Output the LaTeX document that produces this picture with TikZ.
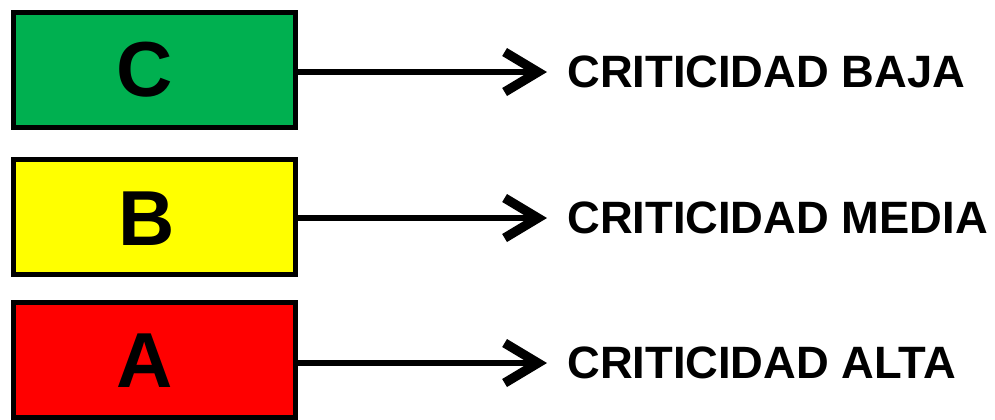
\documentclass[tikz,border=0pt]{standalone}
\usepackage{fontspec}
\setmainfont{Liberation Sans}
\usetikzlibrary{arrows.meta,shadows}

\definecolor{verde}{HTML}{00B050}
\definecolor{amarillo}{HTML}{FFFF00}
\definecolor{rojo}{HTML}{FF0000}

\tikzset{
  caja/.style={draw=black, line width=3.75pt, minimum width=211.5pt, minimum height=86pt,
    inner sep=0pt, drop shadow={opacity=0.25, shadow xshift=2pt, shadow yshift=-2pt}},
  letra/.style={font=\fontsize{58.5}{60}\selectfont\bfseries, inner sep=0pt},
  etiqueta/.style={font=\fontsize{34}{40}\selectfont\bfseries, anchor=west, inner sep=0pt},
  flecha/.style={line width=4.5pt, -{Straight Barb[length=25pt, width=30pt, line width=7pt]}}
}

\begin{document}
\begin{tikzpicture}[x=0.75pt, y=-0.75pt]
    \useasboundingbox (0,0) rectangle (995,419);
    % Cajas
    \node[caja, fill=verde] (cajaC) at (154.5,70) {};
    \node[caja, fill=amarillo] (cajaB) at (154.5,217) {};
    \node[caja, fill=rojo] (cajaA) at (154.5,360) {};

    % Letras
    \node[letra] (C) at (145,70) {C};
    \node[letra] (B) at (147,219) {B};
    \node[letra] (A) at (145,361) {A};

    % Textos
    \node[etiqueta] (baja) at (567,72) {CRITICIDAD BAJA};
    \node[etiqueta] (media) at (567,218) {CRITICIDAD MEDIA};
    \node[etiqueta] (alta) at (567,363) {CRITICIDAD ALTA};

    % Flechas
    \draw[flecha] (cajaC.east |- baja.west) -- ([xshift=-15pt]baja.west);
    \draw[flecha] (cajaB.east |- media.west) -- ([xshift=-15pt]media.west);
    \draw[flecha] (cajaA.east |- alta.west) -- ([xshift=-15pt]alta.west);

\end{tikzpicture}
\end{document}
